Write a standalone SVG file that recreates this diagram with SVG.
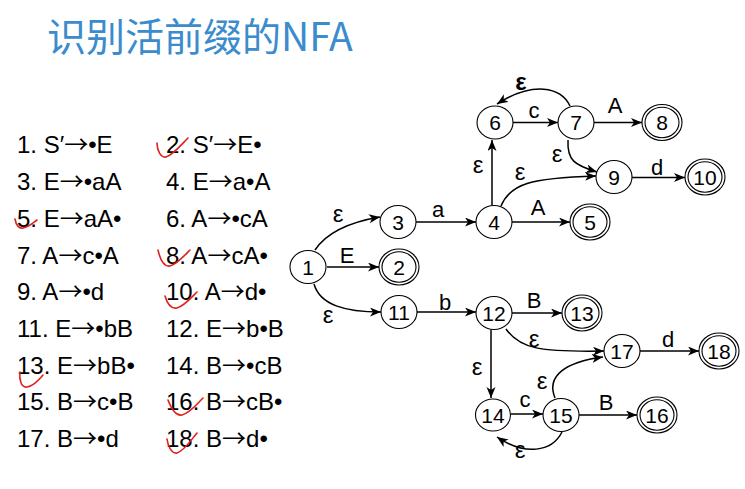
<svg xmlns="http://www.w3.org/2000/svg" width="745" height="489" viewBox="0 0 745 489">
<style>
.title{font-family:"Noto Sans CJK SC","Noto Sans",sans-serif;font-size:39px;fill:#3b8ccc}
.item{font-family:"Liberation Sans",Arial,sans-serif;font-size:24px;fill:#000}
.ar{font-family:"Noto Sans CJK SC",sans-serif}
.chk{fill:none;stroke:#e0201c;stroke-width:1.6;stroke-linecap:round}
.n ellipse{fill:#fff;stroke:#000;stroke-width:1.1}
.n text{font-family:"Liberation Sans",Arial,sans-serif;font-size:21px;text-anchor:middle;fill:#000}
.e path,.e line{fill:none;stroke:#000;stroke-width:1.5;marker-end:url(#ah)}
.lb{font-family:"Liberation Sans",Arial,sans-serif;font-size:22px;text-anchor:middle;fill:#000}
.ep{font-family:"Liberation Sans",Arial,sans-serif;font-size:24px;text-anchor:middle;fill:#000}
</style>
<defs>
<marker id="ah" markerUnits="userSpaceOnUse" markerWidth="12" markerHeight="10" refX="11" refY="4.5" orient="auto">
<path d="M0,0 L11,4.5 L0,9 L3,4.5 z" fill="#000"/>
</marker>
</defs>
<rect width="745" height="489" fill="#fff"/>
<text class="title" x="47" y="51">识别活前缀的NFA</text>

<g id="items">
<text class="item" x="17" y="153">1. S′<tspan class="ar">→</tspan>•E</text>
<text class="item" x="166" y="153">2. S′<tspan class="ar">→</tspan>E•</text>
<text class="item" x="17" y="190">3. E<tspan class="ar">→</tspan>•aA</text>
<text class="item" x="166" y="190">4. E<tspan class="ar">→</tspan>a•A</text>
<text class="item" x="17" y="226.5">5. E<tspan class="ar">→</tspan>aA•</text>
<text class="item" x="166" y="226.5">6. A<tspan class="ar">→</tspan>•cA</text>
<text class="item" x="17" y="263.5">7. A<tspan class="ar">→</tspan>c•A</text>
<text class="item" x="166" y="263.5">8. A<tspan class="ar">→</tspan>cA•</text>
<text class="item" x="17" y="300">9. A<tspan class="ar">→</tspan>•d</text>
<text class="item" x="166" y="300">10. A<tspan class="ar">→</tspan>d•</text>
<text class="item" x="17" y="337">11. E<tspan class="ar">→</tspan>•bB</text>
<text class="item" x="166" y="337">12. E<tspan class="ar">→</tspan>b•B</text>
<text class="item" x="17" y="373.5">13. E<tspan class="ar">→</tspan>bB•</text>
<text class="item" x="166" y="373.5">14. B<tspan class="ar">→</tspan>•cB</text>
<text class="item" x="17" y="410">15. B<tspan class="ar">→</tspan>c•B</text>
<text class="item" x="166" y="410">16. B<tspan class="ar">→</tspan>cB•</text>
<text class="item" x="17" y="447">17. B<tspan class="ar">→</tspan>•d</text>
<text class="item" x="166" y="447">18. B<tspan class="ar">→</tspan>d•</text>
</g>

<g id="checks">
<path class="chk" d="M157,143 C157,151 161,158 166,157 C173,155 181,145 188,138"/>
<path class="chk" d="M15,219 C16,225 19,229 23,228 C29,227 33,223 37,220"/>
<path class="chk" d="M158,250 C160,259 164,267 170,266 C177,264 184,256 190,250"/>
<path class="chk" d="M165,296 C167,303 171,309 177,308 C184,306 191,298 197,292"/>
<path class="chk" d="M20,372 C19,379 21,388 27,387 C33,386 39,380 43,375"/>
<path class="chk" d="M168,400 C171,408 176,416 182,415 C190,413 197,404 203,398"/>
<path class="chk" d="M167,439 C168,447 172,454 177,453 C184,451 191,440 197,433"/>
</g>

<g id="connectors" class="e">
<path d="M315,250 C327,232 350,222 380,217"/>
<line x1="327" y1="267" x2="379" y2="267"/>
<path d="M314,284 C320,305 345,312 381,312"/>
<line x1="416" y1="222" x2="476" y2="222"/>
<line x1="512" y1="222" x2="570" y2="222"/>
<line x1="492" y1="205" x2="492" y2="140"/>
<path d="M501,206 C510,184 530,178 596,176"/>
<line x1="513" y1="122.5" x2="558" y2="122.5"/>
<line x1="594" y1="122.5" x2="642" y2="122.5"/>
<path d="M570,106 C561,87 533,81 497,104"/>
<path d="M568,140 C567,160 574,165 597,172"/>
<line x1="632" y1="177.5" x2="685" y2="177.5"/>
<line x1="417" y1="312" x2="476" y2="312"/>
<line x1="512" y1="313" x2="562" y2="313"/>
<line x1="491" y1="330" x2="491" y2="398"/>
<path d="M506,329 C520,349 540,352 604,351"/>
<line x1="511" y1="414" x2="543" y2="414"/>
<line x1="579" y1="415" x2="637" y2="415"/>
<path d="M555,398 C546,376 565,362 603,357"/>
<path d="M562,432 C552,452 525,456 497,437"/>
<line x1="640" y1="351" x2="699" y2="351"/>
</g>

<g id="edge-labels">
<text class="ep" x="338" y="222">ε</text>
<text class="lb" x="347" y="263">E</text>
<text class="ep" x="328" y="323">ε</text>
<text class="lb" x="438" y="217">a</text>
<text class="lb" x="538" y="215">A</text>
<text class="ep" x="478" y="173">ε</text>
<text class="ep" x="520" y="180">ε</text>
<text class="lb" x="534" y="118">c</text>
<text class="lb" x="615" y="113">A</text>
<text class="ep" x="521" y="90" font-weight="bold">ε</text>
<text class="ep" x="557" y="162">ε</text>
<text class="lb" x="657" y="175">d</text>
<text class="lb" x="445" y="310">b</text>
<text class="lb" x="534" y="308">B</text>
<text class="ep" x="477" y="375">ε</text>
<text class="ep" x="534" y="347">ε</text>
<text class="lb" x="525" y="407">c</text>
<text class="lb" x="606" y="410">B</text>
<text class="ep" x="542" y="389">ε</text>
<text class="ep" x="520" y="458">ε</text>
<text class="lb" x="668" y="347">d</text>
</g>

<g id="node1" class="n"><ellipse cx="308" cy="267" rx="18" ry="16.5"/><text x="308" y="274.5">1</text></g>
<g id="node2" class="n"><ellipse cx="399" cy="267" rx="20" ry="18"/><ellipse cx="399" cy="267" rx="17" ry="15.2"/><text x="399" y="274.5">2</text></g>
<g id="node3" class="n"><ellipse cx="398" cy="222" rx="18" ry="16.5"/><text x="398" y="229.5">3</text></g>
<g id="node4" class="n"><ellipse cx="494" cy="222" rx="18" ry="16.5"/><text x="494" y="229.5">4</text></g>
<g id="node5" class="n"><ellipse cx="590" cy="222" rx="20" ry="18"/><ellipse cx="590" cy="222" rx="17" ry="15.2"/><text x="590" y="229.5">5</text></g>
<g id="node6" class="n"><ellipse cx="495" cy="122.5" rx="18" ry="16.5"/><text x="495" y="130">6</text></g>
<g id="node7" class="n"><ellipse cx="576" cy="122.5" rx="18" ry="16.5"/><text x="576" y="130">7</text></g>
<g id="node8" class="n"><ellipse cx="662" cy="122.5" rx="20" ry="18"/><ellipse cx="662" cy="122.5" rx="17" ry="15.2"/><text x="662" y="130">8</text></g>
<g id="node9" class="n"><ellipse cx="614" cy="177" rx="18" ry="16.5"/><text x="614" y="184.5">9</text></g>
<g id="node10" class="n"><ellipse cx="705" cy="177" rx="20" ry="18"/><ellipse cx="705" cy="177" rx="17" ry="15.2"/><text x="705" y="184.5">10</text></g>
<g id="node11" class="n"><ellipse cx="399" cy="312" rx="18" ry="16.5"/><text x="399" y="319.5">11</text></g>
<g id="node12" class="n"><ellipse cx="494" cy="313" rx="18" ry="16.5"/><text x="494" y="320.5">12</text></g>
<g id="node13" class="n"><ellipse cx="582" cy="313" rx="20" ry="18"/><ellipse cx="582" cy="313" rx="17" ry="15.2"/><text x="582" y="320.5">13</text></g>
<g id="node14" class="n"><ellipse cx="493" cy="415" rx="17.5" ry="16"/><text x="493" y="422.5">14</text></g>
<g id="node15" class="n"><ellipse cx="561" cy="415" rx="18" ry="16.5"/><text x="561" y="422.5">15</text></g>
<g id="node16" class="n"><ellipse cx="657" cy="415" rx="20" ry="18"/><ellipse cx="657" cy="415" rx="17" ry="15.2"/><text x="657" y="422.5">16</text></g>
<g id="node17" class="n"><ellipse cx="622" cy="351" rx="18" ry="16.5"/><text x="622" y="358.5">17</text></g>
<g id="node18" class="n"><ellipse cx="719" cy="351" rx="20" ry="18"/><ellipse cx="719" cy="351" rx="17" ry="15.2"/><text x="719" y="358.5">18</text></g>
</svg>
